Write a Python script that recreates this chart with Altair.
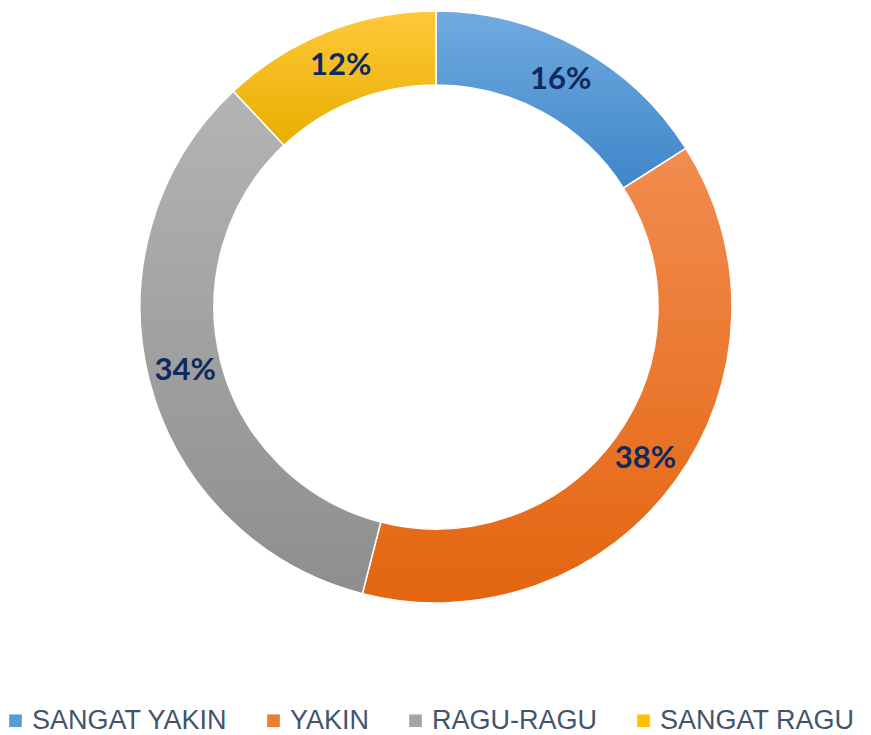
import altair as alt
import pandas as pd

categories = ["SANGAT YAKIN", "YAKIN", "RAGU-RAGU", "SANGAT RAGU"]
values = [16, 38, 34, 12]
labels = ["16%", "38%", "34%", "12%"]
base_colors = ["#5B9BD5", "#ED7D31", "#A5A5A5", "#FFC000"]
top_colors = ["#70AAE0", "#F28C50", "#B4B4B4", "#FFC83A"]
bottom_colors = ["#3F86C9", "#E3650F", "#8E8E8E", "#E8AE00"]

df = pd.DataFrame({
    "category": categories,
    "value": values,
    "label": labels,
    "order": list(range(len(categories))),
})

CX, CY = 428, 299
R_OUT, R_IN, R_LAB = 296, 222, 259

base = alt.Chart(df).transform_window(
    cum="sum(value)", sort=[alt.SortField("order")]
).transform_calculate(
    start="datum.cum - datum.value"
)

theta_scale = alt.Scale(domain=[0, 100])

legend_layer = base.mark_arc(outerRadius=R_OUT, innerRadius=R_IN, opacity=1).encode(
    x=alt.value(CX),
    y=alt.value(CY),
    theta=alt.Theta("start:Q", scale=theta_scale),
    theta2="cum:Q",
    color=alt.Color(
        "category:N",
        scale=alt.Scale(domain=categories, range=base_colors),
        legend=alt.Legend(
            title=None,
            orient="none",
            legendX=-6,
            legendY=699,
            padding=0,
            direction="horizontal",
            symbolType="square",
            symbolSize=160,
            symbolStrokeWidth=0,
            labelFontSize=27,
            labelFont="Liberation Sans Narrow, Liberation Sans",
            labelColor="#44546A",
            columnPadding=32,
            symbolOffset=0,
            labelOffset=3,
            labelLimit=400,
        ),
    ),
)

grad_layers = []
for cat, t, b in zip(categories, top_colors, bottom_colors):
    grad_layers.append(
        base.transform_filter(alt.datum.category == cat).mark_arc(
            outerRadius=R_OUT,
            innerRadius=R_IN,
            color=alt.Gradient(
                gradient="linear",
                stops=[alt.GradientStop(color=t, offset=0), alt.GradientStop(color=b, offset=1)],
                x1=0, x2=0, y1=0, y2=1,
            ),
            stroke="white",
            strokeWidth=1.5,
        ).encode(
            x=alt.value(CX),
            y=alt.value(CY),
            theta=alt.Theta("start:Q", scale=theta_scale),
            theta2="cum:Q",
        )
    )

text_layer = base.transform_calculate(
    mid="datum.start + datum.value / 2"
).mark_text(
    radius=R_LAB,
    font="Lato",
    fontWeight="bold",
    fontSize=31,
    color="#0E2A5E",
    align="center",
    baseline="middle",
).encode(
    x=alt.value(CX),
    y=alt.value(CY),
    theta=alt.Theta("mid:Q", scale=theta_scale),
    text="label:N",
)

chart = alt.layer(legend_layer, *grad_layers, text_layer).properties(
    width=855,
    height=727,
    autosize=alt.AutoSizeParams(type="none"),
    padding=0,
    background="white",
).configure_view(strokeWidth=0, stroke="transparent")

chart.save("out.html", embed_options={"renderer": "svg", "actions": False})
